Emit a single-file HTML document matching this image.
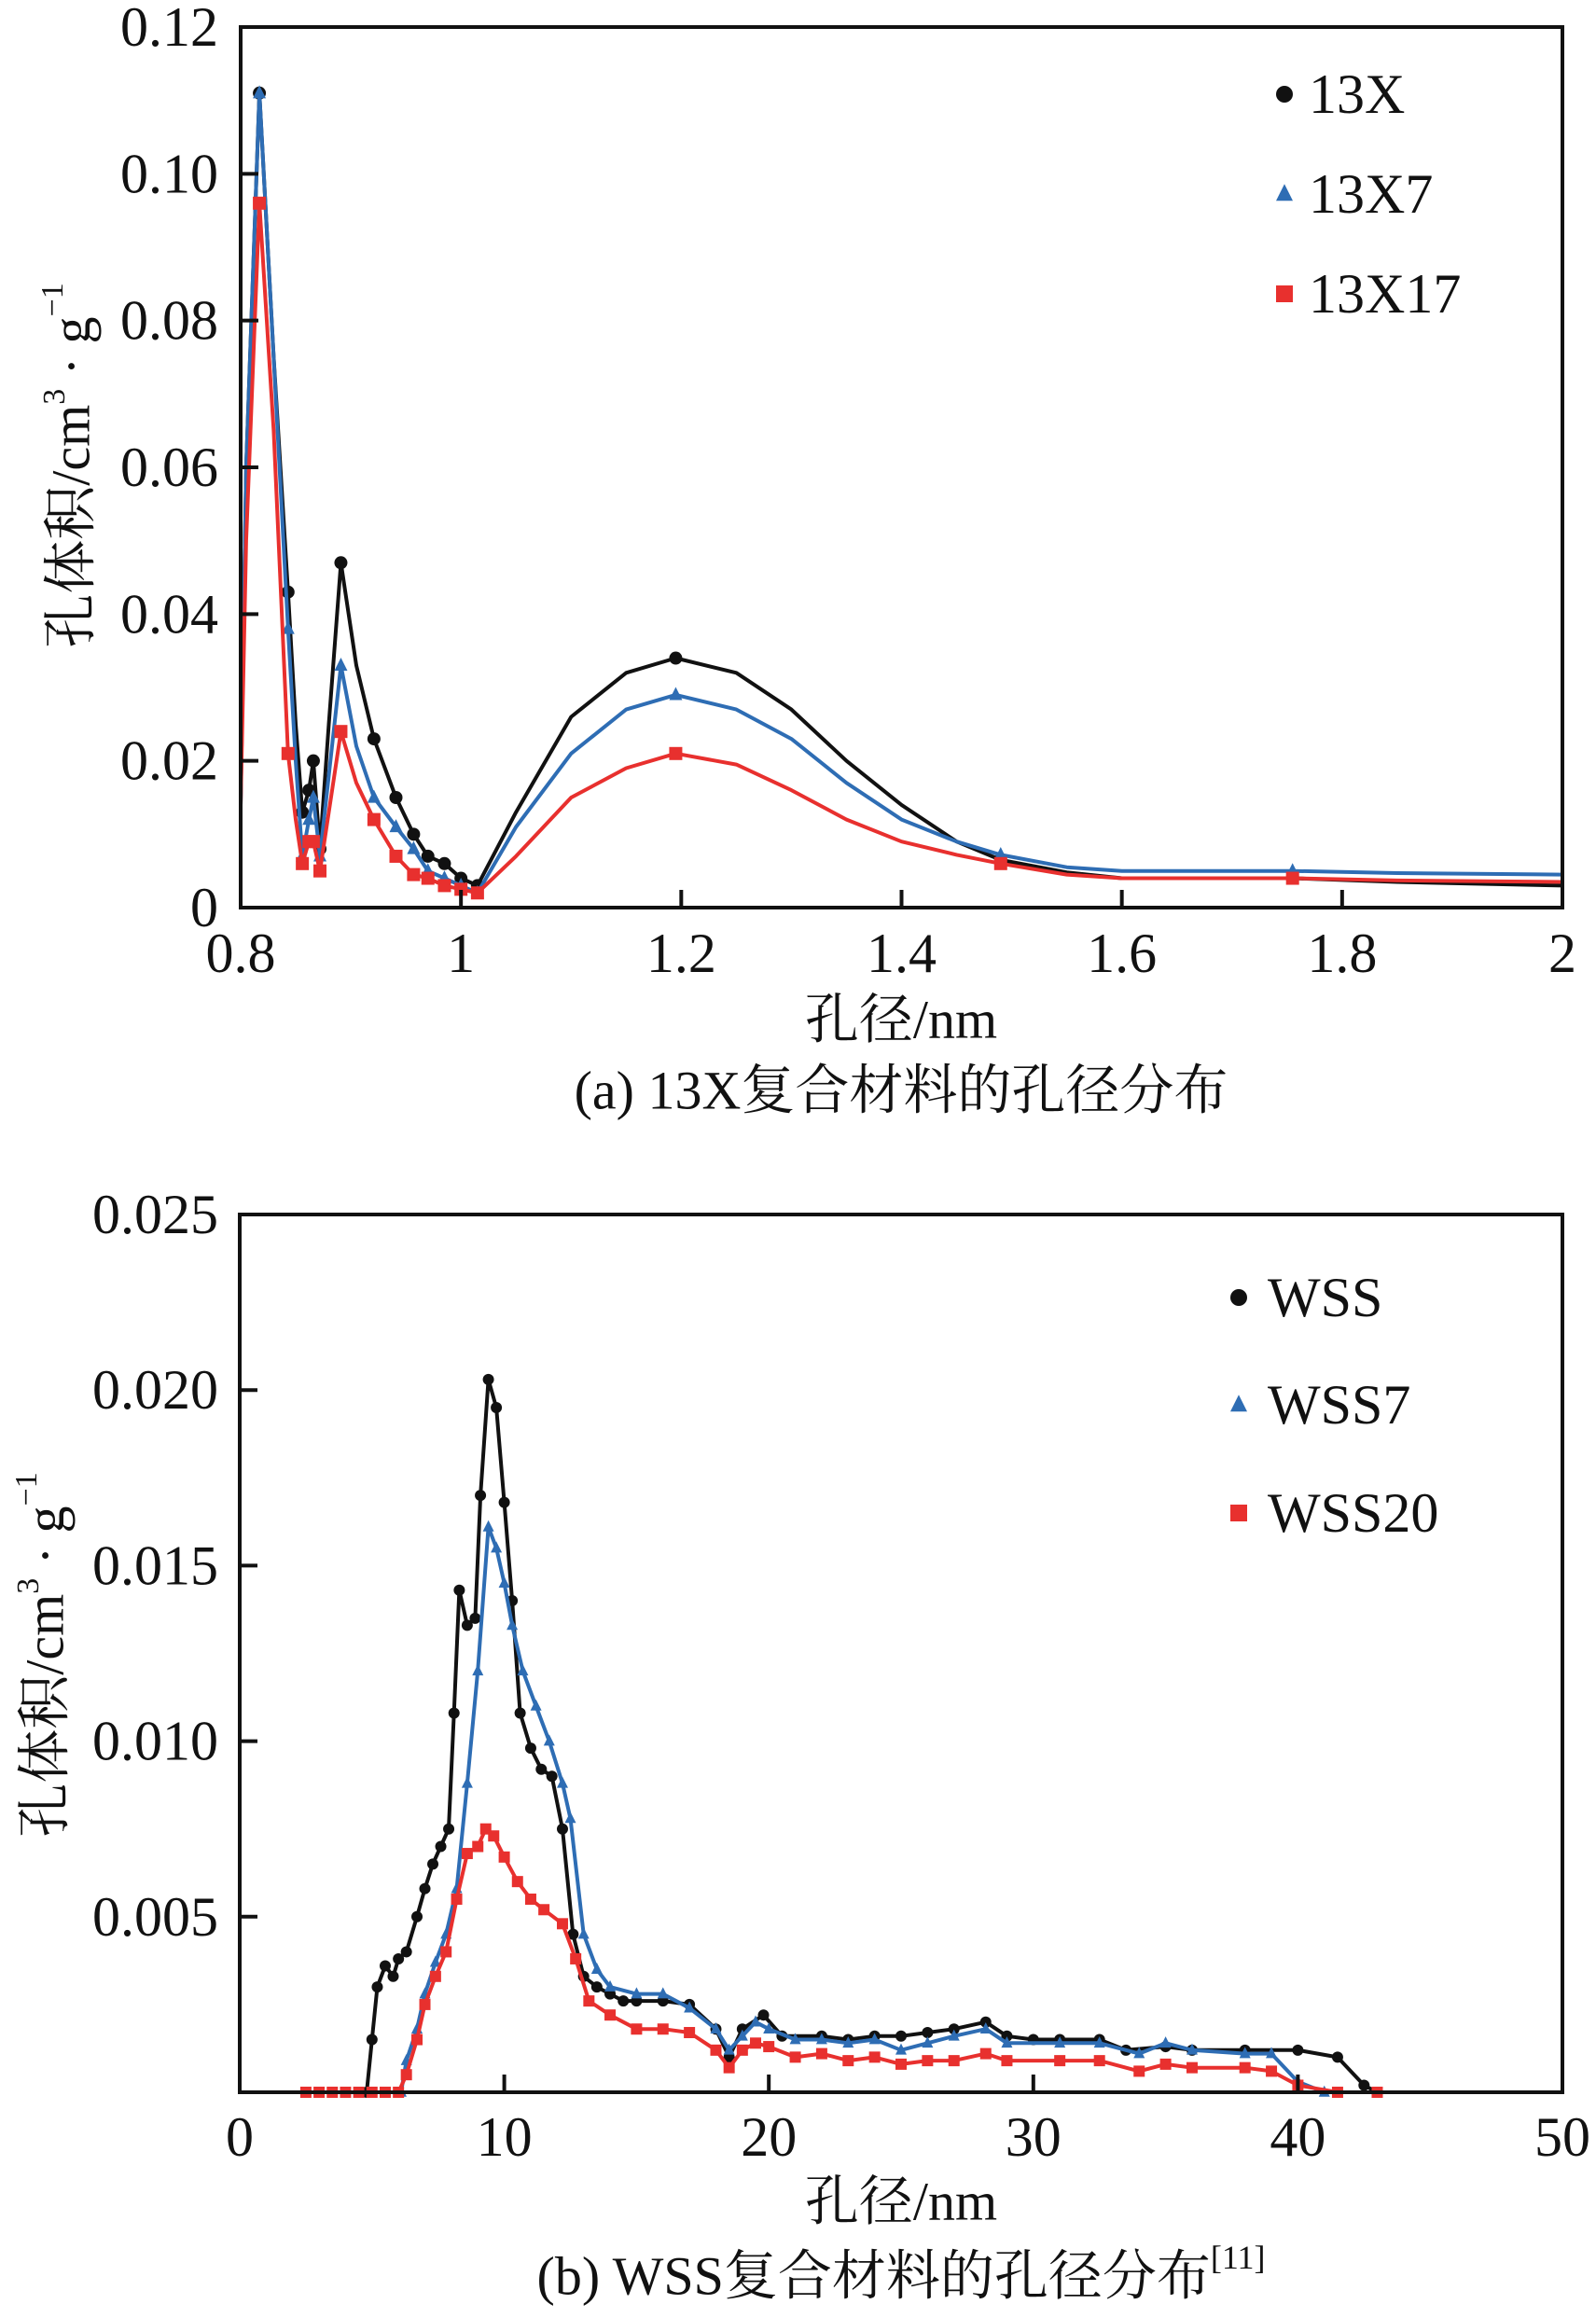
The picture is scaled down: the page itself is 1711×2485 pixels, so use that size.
<!DOCTYPE html>
<html><head><meta charset="utf-8"><style>
html,body{margin:0;padding:0;background:#fff;}
svg text{font-family:"Liberation Serif","Noto Serif CJK SC","Noto Sans CJK SC",serif;fill:#111;}
</style></head><body>
<svg id="fig" width="1711" height="2480" viewBox="0 0 1711 2480" xmlns="http://www.w3.org/2000/svg"></svg>
<script>
// ---- Chart (a) data ----
const aX1 = [0.80,0.805,0.817,0.83,0.843,0.85,0.856,0.862,0.866,0.872,0.88,0.891,0.905,0.921,0.941,0.957,0.97,0.985,1.0,1.015,1.05,1.1,1.15,1.195,1.25,1.3,1.35,1.4,1.45,1.49,1.55,1.6,1.7,1.755,1.85,2.0];
const aY13X = [0.014,0.06,0.111,0.075,0.043,0.025,0.013,0.016,0.020,0.008,0.025,0.047,0.033,0.023,0.015,0.010,0.007,0.006,0.004,0.003,0.013,0.026,0.032,0.034,0.032,0.027,0.020,0.014,0.009,0.0065,0.0048,0.004,0.004,0.004,0.0035,0.003];
const aY13X7 = [0.014,0.06,0.111,0.075,0.038,0.02,0.007,0.012,0.015,0.007,0.018,0.033,0.022,0.015,0.011,0.008,0.005,0.004,0.003,0.002,0.011,0.021,0.027,0.029,0.027,0.023,0.017,0.012,0.009,0.0072,0.0055,0.005,0.005,0.005,0.0047,0.0045];
const aY13X17 = [0.014,0.05,0.096,0.065,0.021,0.012,0.006,0.009,0.009,0.005,0.013,0.024,0.017,0.012,0.007,0.0045,0.004,0.003,0.0025,0.002,0.007,0.015,0.019,0.021,0.0195,0.016,0.012,0.009,0.0072,0.006,0.0045,0.004,0.004,0.004,0.0037,0.0035];
const aMarkIdx = [2,4,6,7,8,9,11,13,14,15,16,17,18,19,23,29,33];
const aXTicks = [0.8,1.0,1.2,1.4,1.6,1.8,2.0];
const aXTickLabels = ["0.8","1","1.2","1.4","1.6","1.8","2"];
const aYTicks = [0,0.02,0.04,0.06,0.08,0.10,0.12];
const aYTickLabels = ["0","0.02","0.04","0.06","0.08","0.10","0.12"];

// ---- Chart (b) data ----
const bXWSS = [2.5,4.8,5.0,5.2,5.5,5.8,6.0,6.3,6.7,7.0,7.3,7.6,7.9,8.1,8.3,8.6,8.9,9.1,9.4,9.7,10.0,10.3,10.6,11.0,11.4,11.8,12.2,12.6,13.0,13.5,14,14.5,15,16,17,18,18.5,19,19.8,20.5,22,23,24,25,26,27,28.2,29,30,31,32.5,33.5,35,36,38,40,41.5,42.5,43];
const bYWSS = [0,0,0.0015,0.003,0.0036,0.0033,0.0038,0.004,0.005,0.0058,0.0065,0.007,0.0075,0.0108,0.0143,0.0133,0.0135,0.017,0.0203,0.0195,0.0168,0.014,0.0108,0.0098,0.0092,0.009,0.0075,0.0045,0.0033,0.003,0.0028,0.0026,0.0026,0.0026,0.0025,0.0018,0.001,0.0018,0.0022,0.0016,0.0016,0.0015,0.0016,0.0016,0.0017,0.0018,0.002,0.0016,0.0015,0.0015,0.0015,0.0012,0.0013,0.0012,0.0012,0.0012,0.001,0.0002,0];
const bXWSS7 = [6.1,6.3,6.7,7.0,7.4,7.8,8.2,8.6,9.0,9.4,9.7,10,10.3,10.7,11.2,11.7,12.2,12.5,13,13.5,14,15,16,17,18,18.5,19,19.5,20,21,22,23,24,25,26,27,28.2,29,31,32.5,34,35,36,38,39,40,41];
const bYWSS7 = [0,0.0009,0.0018,0.0028,0.0037,0.0045,0.0058,0.0088,0.012,0.0161,0.0155,0.0145,0.0133,0.012,0.011,0.010,0.0088,0.0078,0.0045,0.0035,0.003,0.0028,0.0028,0.0024,0.0018,0.0012,0.0016,0.002,0.0018,0.0015,0.0015,0.0014,0.0015,0.0012,0.0014,0.0016,0.0018,0.0014,0.0014,0.0014,0.0011,0.0014,0.0012,0.0011,0.0011,0.0003,0];
const bXWSS20 = [2.5,3.0,3.5,4.0,4.5,5.0,5.5,6.0,6.3,6.7,7.0,7.4,7.8,8.2,8.6,9.0,9.3,9.6,10,10.5,11,11.5,12.2,12.7,13.2,14,15,16,17,18,18.5,19,19.5,20,21,22,23,24,25,26,27,28.2,29,31,32.5,34,35,36,38,39,40,41.5,43];
const bYWSS20 = [0,0,0,0,0,0,0,0,0.0005,0.0015,0.0025,0.0033,0.004,0.0055,0.0068,0.007,0.0075,0.0073,0.0067,0.006,0.0055,0.0052,0.0048,0.0038,0.0026,0.0022,0.0018,0.0018,0.0017,0.0012,0.0007,0.0012,0.0014,0.0013,0.001,0.0011,0.0009,0.001,0.0008,0.0009,0.0009,0.0011,0.0009,0.0009,0.0009,0.0006,0.0008,0.0007,0.0007,0.0006,0.0002,0,0];
const bXTicks = [0,10,20,30,40,50];
const bXTickLabels = ["0","10","20","30","40","50"];
const bYTicks = [0.005,0.010,0.015,0.020,0.025];
const bYTickLabels = ["0.005","0.010","0.015","0.020","0.025"];

const NS="http://www.w3.org/2000/svg";
const svg=document.getElementById('fig');
function mk(tag,attrs,parent){const e=document.createElementNS(NS,tag);for(const k in attrs)e.setAttribute(k,attrs[k]);(parent||svg).appendChild(e);return e;}
function txt(s,x,y,size,anchor,parent){const t=mk('text',{x:x,y:y,'font-size':size,'text-anchor':anchor||'middle','dominant-baseline':'central'},parent);t.textContent=s;return t;}
function marker(g,shape,x,y,color,s){
  if(shape==='circle')return mk('circle',{cx:x,cy:y,r:s,fill:color},g);
  if(shape==='tri')return mk('polygon',{points:`${x},${y-s*1.2} ${x-s},${y+s*0.8} ${x+s},${y+s*0.8}`,fill:color},g);
  return mk('rect',{x:x-s,y:y-s,width:2*s,height:2*s,fill:color},g);
}

function chart(cfg){
  const g=mk('g',{});
  
  
  const L=cfg.L,R=cfg.R,T=cfg.T,B=cfg.B;
  const sx=v=>L+(v-cfg.x0)/(cfg.x1-cfg.x0)*(R-L);
  const sy=v=>B-(v-cfg.y0)/(cfg.y1-cfg.y0)*(B-T);
  cfg.series.forEach(s=>{
    const sg=mk('g',{},g);
    
    
    const pts=s.x.map((v,i)=>sx(v).toFixed(1)+','+sy(s.y[i]).toFixed(1)).join(' ');
    const pl=mk('polyline',{points:pts,fill:'none',stroke:s.color,'stroke-width':4,'stroke-linejoin':'round'},sg);
    
    
    s.x.forEach((v,i)=>{
      if(cfg.markIdx && cfg.markIdx.indexOf(i)<0)return;
      const m=marker(sg,s.shape,sx(v),sy(s.y[i]),s.color,cfg.ms);
      
      
    });
  });
  const fr=mk('rect',{x:L,y:T,width:R-L,height:B-T,fill:'none',stroke:'#111','stroke-width':4},g);
  
  
  cfg.xt.forEach((v,i)=>{
    const x=sx(v);
    const tl=mk('line',{x1:x,y1:B,x2:x,y2:B-19,stroke:'#111','stroke-width':4},g);
    
    
    const t=txt(cfg.xl[i],x,cfg.xLabY,60,'middle',g);
    
    
  });
  cfg.yt.forEach((v,i)=>{
    const y=sy(v);
    const tl=mk('line',{x1:L,y1:y,x2:L+19,y2:y,stroke:'#111','stroke-width':4},g);
    
    
    const t=txt(cfg.yl[i],234,y,60,'end',g);
    
    
  });
  const xt=txt('孔径/nm',966,cfg.xTitleY,58,'middle',g);
  
  
  const yt=mk('text',{x:0,y:0,'font-size':58,'text-anchor':'middle','dominant-baseline':'central',transform:`translate(${cfg.yTitleX},${cfg.yTitleY}) rotate(-90)`},g);
  yt.innerHTML='孔体积/cm<tspan font-size="34" dy="-18">3</tspan><tspan dy="18"> · g</tspan><tspan font-size="34" dy="-20">−1</tspan>';
  
  
  const cap=mk('text',{x:966,y:cfg.capY,'font-size':58,'text-anchor':'middle','dominant-baseline':'central'},g);
  cap.innerHTML=cfg.caption;
  
  
  cfg.series.forEach((s,i)=>{
    const lg=mk('g',{},g);
    
    
    marker(lg,s.shape,cfg.legMX,cfg.legY[i],s.color,9);
    txt(s.name,cfg.legTX,cfg.legY[i],60,'start',lg);
  });
}

chart({name:'chart-13x',L:258,R:1675,T:29,B:973,x0:0.8,x1:2.0,y0:0,y1:0.12,ms:7,markIdx:aMarkIdx,
  xt:aXTicks,xl:aXTickLabels,yt:aYTicks,yl:aYTickLabels,xLabY:1022,xTitleY:1093,capY:1169,yTitleX:76,yTitleY:499,
  caption:'(a) 13X复合材料的孔径分布',legMX:1377,legTX:1403,legY:[101,208,315],
  series:[{name:'13X',x:aX1,y:aY13X,color:'#111',shape:'circle'},
          {name:'13X7',x:aX1,y:aY13X7,color:'#2e6db4',shape:'tri'},
          {name:'13X17',x:aX1,y:aY13X17,color:'#e8302e',shape:'sq'}]});

chart({name:'chart-wss',L:257,R:1675,T:1302,B:2243,x0:0,x1:50,y0:0,y1:0.025,ms:6,
  xt:bXTicks,xl:bXTickLabels,yt:bYTicks,yl:bYTickLabels,xLabY:2291,xTitleY:2360,capY:2440,yTitleX:48,yTitleY:1774,
  caption:'(b) WSS复合材料的孔径分布<tspan font-size="36" dy="-20">[11]</tspan>',legMX:1328,legTX:1359,legY:[1391,1506,1622],
  series:[{name:'WSS',x:bXWSS,y:bYWSS,color:'#111',shape:'circle'},
          {name:'WSS7',x:bXWSS7,y:bYWSS7,color:'#2e6db4',shape:'tri'},
          {name:'WSS20',x:bXWSS20,y:bYWSS20,color:'#e8302e',shape:'sq'}]});
</script>
</body></html>
